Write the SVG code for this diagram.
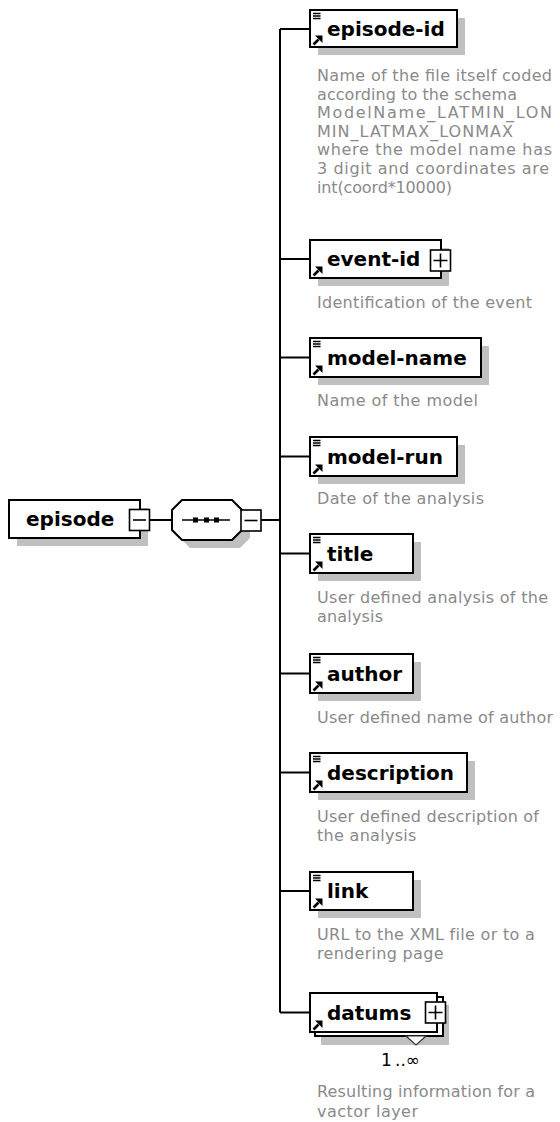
<svg xmlns="http://www.w3.org/2000/svg" xmlns:xlink="http://www.w3.org/1999/xlink" width="560" height="1122" viewBox="0 0 560 1122">
  <style>
    .box { fill: #ffffff; stroke: #000000; stroke-width: 2; }
    .shadow { fill: #c0c0c0; stroke: none; }
    .pm { fill: #ffffff; stroke: #000000; stroke-width: 1.6; }
    .sign { stroke: #000000; stroke-width: 1.6; fill: none; }
    .conn { stroke: #000000; stroke-width: 2; fill: none; }
    .label { font-family: "DejaVu Sans", "Liberation Sans", sans-serif; font-weight: bold; font-size: 20px; fill: #000000; }
    .doc { font-family: "DejaVu Sans", "Liberation Sans", sans-serif; font-size: 16px; fill: #8a8a8a; letter-spacing: 0.3px; }
    .fit { letter-spacing: 0; }
    .occ { font-family: "DejaVu Sans", "Liberation Sans", sans-serif; font-size: 17px; fill: #000000; }
  </style>
  <defs>
    <!-- simple-content marker: three short bars in the top-left corner -->
    <g id="icon-simple">
      <path d="M3 3.5H10.5M3 6H10.5M3 8.5H10.5" stroke="#000" stroke-width="1.4" fill="none"/>
    </g>
    <!-- global reference marker: small arrow in the bottom-left corner -->
    <g id="icon-ref">
      <path d="M3.5 -2.5L8.5 -7.5" stroke="#000" stroke-width="2.6" fill="none"/>
      <path d="M5 -11.5H12.5V-4Z" fill="#000"/>
    </g>
  </defs>

  <!-- connectors -->
  <g id="connectors">
    <path class="conn" d="M150 520H172"/>
    <path class="conn" d="M261 520H280"/>
    <path class="conn" d="M280 29V1012.5"/>
    <path class="conn" d="M280 29H310"/>
    <path class="conn" d="M280 259H310"/>
    <path class="conn" d="M280 357.5H310"/>
    <path class="conn" d="M280 456.5H310"/>
    <path class="conn" d="M280 553.5H310"/>
    <path class="conn" d="M280 673.5H310"/>
    <path class="conn" d="M280 772.5H310"/>
    <path class="conn" d="M280 891H310"/>
    <path class="conn" d="M280 1012.5H310"/>
  </g>

  <!-- root element -->
  <g id="episode">
    <rect class="shadow" x="17" y="508" width="131" height="38"/>
    <rect class="box" x="9" y="500" width="131" height="38"/>
    <text class="label" x="26" y="526">episode</text>
    <rect class="pm" x="129.5" y="509.5" width="20" height="21"/>
    <path class="sign" d="M133 520H146"/>
  </g>

  <!-- sequence compositor -->
  <g id="sequence">
    <polygon class="shadow" points="190,508 240,508 250,518 250,538 240,548 190,548 180,538 180,518"/>
    <polygon class="box" points="182,500 232,500 242,510 242,530 232,540 182,540 172,530 172,510"/>
    <path class="sign" d="M182 520H230" stroke-width="1.5"/>
    <rect x="193" y="517.5" width="5" height="5" fill="#000"/>
    <rect x="204" y="517.5" width="5" height="5" fill="#000"/>
    <rect x="214" y="517.5" width="5" height="5" fill="#000"/>
    <rect class="pm" x="241" y="510" width="20" height="21"/>
    <path class="sign" d="M244.5 520.5H257.5"/>
  </g>

  <g id="episode-id">
    <rect class="shadow" x="318" y="18" width="147" height="37"/>
    <rect class="box" x="310" y="10" width="147" height="37"/>
    <use xlink:href="#icon-simple" x="310" y="10"/>
    <use xlink:href="#icon-ref" x="310" y="47"/>
    <text class="label" x="327" y="36">episode-id</text>
    <text class="doc fit" x="317" y="81" textLength="235" lengthAdjust="spacing">Name of the file itself coded</text>
    <text class="doc fit" x="317" y="99.6" textLength="200" lengthAdjust="spacing">according to the schema</text>
    <text class="doc fit" x="317" y="118.2" textLength="235" lengthAdjust="spacing">ModelName_LATMIN_LON</text>
    <text class="doc fit" x="317" y="136.8" textLength="196" lengthAdjust="spacing">MIN_LATMAX_LONMAX</text>
    <text class="doc fit" x="317" y="155.4" textLength="235" lengthAdjust="spacing">where the model name has</text>
    <text class="doc fit" x="317" y="174" textLength="232" lengthAdjust="spacing">3 digit and coordinates are</text>
    <text class="doc fit" x="317" y="192.6" textLength="135" lengthAdjust="spacing">int(coord*10000)</text>
  </g>

  <g id="event-id">
    <rect class="shadow" x="318" y="248" width="131" height="38"/>
    <rect class="box" x="310" y="240" width="131" height="38"/>
    <use xlink:href="#icon-ref" x="310" y="278"/>
    <text class="label" x="327" y="266">event-id</text>
    <rect class="pm" x="430.5" y="250" width="20" height="21"/>
    <path class="sign" d="M433.5 260.5H447.5M440.5 253.5V267.5"/>
    <text class="doc fit" x="317" y="308" textLength="215" lengthAdjust="spacing">Identification of the event</text>
  </g>

  <g id="model-name">
    <rect class="shadow" x="318" y="346" width="171" height="39"/>
    <rect class="box" x="310" y="338" width="171" height="39"/>
    <use xlink:href="#icon-simple" x="310" y="338"/>
    <use xlink:href="#icon-ref" x="310" y="377"/>
    <text class="label" x="327" y="364.5">model-name</text>
    <text class="doc fit" x="317" y="406" textLength="161" lengthAdjust="spacing">Name of the model</text>
  </g>

  <g id="model-run">
    <rect class="shadow" x="318" y="445" width="147" height="39"/>
    <rect class="box" x="310" y="437" width="147" height="39"/>
    <use xlink:href="#icon-simple" x="310" y="437"/>
    <use xlink:href="#icon-ref" x="310" y="476"/>
    <text class="label" x="327" y="463.5">model-run</text>
    <text class="doc fit" x="317" y="504" textLength="167" lengthAdjust="spacing">Date of the analysis</text>
  </g>

  <g id="title">
    <rect class="shadow" x="318" y="542" width="103" height="39"/>
    <rect class="box" x="310" y="534" width="103" height="39"/>
    <use xlink:href="#icon-simple" x="310" y="534"/>
    <use xlink:href="#icon-ref" x="310" y="573"/>
    <text class="label" x="327" y="560.5">title</text>
    <text class="doc fit" x="317" y="603" textLength="231" lengthAdjust="spacing">User defined analysis of the</text>
    <text class="doc fit" x="317" y="622" textLength="66" lengthAdjust="spacing">analysis</text>
  </g>

  <g id="author">
    <rect class="shadow" x="318" y="662" width="103" height="39"/>
    <rect class="box" x="310" y="654" width="103" height="39"/>
    <use xlink:href="#icon-simple" x="310" y="654"/>
    <use xlink:href="#icon-ref" x="310" y="693"/>
    <text class="label" x="327" y="680.5">author</text>
    <text class="doc fit" x="317" y="723" textLength="236" lengthAdjust="spacing">User defined name of author</text>
  </g>

  <g id="description">
    <rect class="shadow" x="318" y="761" width="157" height="39"/>
    <rect class="box" x="310" y="753" width="157" height="39"/>
    <use xlink:href="#icon-simple" x="310" y="753"/>
    <use xlink:href="#icon-ref" x="310" y="792"/>
    <text class="label" x="327" y="779.5">description</text>
    <text class="doc fit" x="317" y="822" textLength="222" lengthAdjust="spacing">User defined description of</text>
    <text class="doc" x="317" y="841">the analysis</text>
  </g>

  <g id="link">
    <rect class="shadow" x="318" y="880" width="103" height="38"/>
    <rect class="box" x="310" y="872" width="103" height="38"/>
    <use xlink:href="#icon-simple" x="310" y="872"/>
    <use xlink:href="#icon-ref" x="310" y="910"/>
    <text class="label" x="327" y="898">link</text>
    <text class="doc" x="317" y="940">URL to the XML file or to a</text>
    <text class="doc" x="317" y="959">rendering page</text>
  </g>

  <g id="datums">
    <rect class="shadow" x="321" y="1005" width="128" height="40"/>
    <rect class="box" x="315" y="997" width="128" height="39"/>
    <rect class="box" x="310" y="993" width="127" height="39"/>
    <use xlink:href="#icon-ref" x="310" y="1032"/>
    <text class="label" x="327" y="1019.5">datums</text>
    <rect class="pm" x="425.5" y="1002" width="20" height="21"/>
    <path class="sign" d="M428.5 1012.5H442.5M435.5 1005.5V1019.5"/>
    <polygon points="406,1036 426,1036 416,1045" fill="#ffffff" stroke="#333333" stroke-width="1.2"/>
    <text class="occ" x="381" y="1066">1<tspan x="395">..∞</tspan></text>
    <text class="doc fit" x="317" y="1097" textLength="218" lengthAdjust="spacing">Resulting information for a</text>
    <text class="doc fit" x="317" y="1117" textLength="101" lengthAdjust="spacing">vactor layer</text>
  </g>
</svg>
